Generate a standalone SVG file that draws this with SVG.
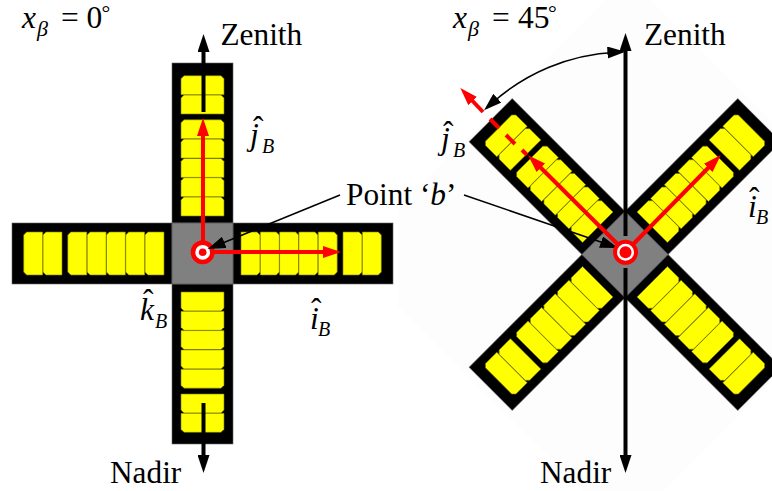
<svg xmlns="http://www.w3.org/2000/svg" width="772" height="491" viewBox="0 0 772 491">
<style>
text{font-family:"Liberation Serif","Times New Roman",serif;fill:#000}
.t{font-size:31.3px}
.i{font-size:31.5px;font-style:italic}
.n{font-size:31.5px}
.s{font-size:20px;font-style:italic}
.sg{font-size:22px;font-style:italic}
.d{font-size:22px}
.arm{fill:#000;stroke:#666;stroke-width:.6}
.cell{fill:#ff0;stroke:#7a7a00;stroke-width:.6}
.hub{fill:#808080;stroke:#555;stroke-width:.8}
.bk{fill:none;stroke:#000;stroke-width:4}
.rd{fill:none;stroke:#f00;stroke-width:4}
.ld{fill:none;stroke:#000;stroke-width:1.5}
</style>
<defs>
<marker id="ab" markerUnits="userSpaceOnUse" viewBox="0 0 18 12" markerWidth="18" markerHeight="12" refX="9" refY="6" orient="auto-start-reverse"><path d="M0 0L18 6L0 12Z" fill="#000"/></marker>
<marker id="ar" markerUnits="userSpaceOnUse" viewBox="0 0 18 12" markerWidth="18" markerHeight="12" refX="9" refY="6" orient="auto"><path d="M0 0L18 6L0 12Z" fill="#f00"/></marker>
<path id="cell" class="cell" d="M0-21.500H16L19-18.500V18.500L16 21.500H0Z"/>
<g id="cells">
<use href="#cell" x="0"/><use href="#cell" x="19.300"/><use href="#cell" x="38.600"/><use href="#cell" x="57.900"/><use href="#cell" x="77.200"/><use href="#cell" x="102"/><use href="#cell" x="121.300"/>
</g>
<rect id="armbar" class="arm" x="30.500" y="-30.500" width="160" height="61"/>
</defs>
<polygon id="backdrop" points="398,207 605,0 650,0 772,122 772,382 663,491 583,491 398,306" fill="#fdfdfd"/>
<g id="left-arm-top" transform="translate(202.500 253.500) rotate(-90)"><use href="#armbar"/><use href="#cells" x="37.500"/></g>
<g id="left-arm-right" transform="translate(202.500 253.500)"><use href="#armbar"/><use href="#cells" x="38.500"/></g>
<g id="left-arm-bottom" transform="translate(202.500 253.500) rotate(90)"><use href="#armbar"/><use href="#cells" x="38.500"/></g>
<g id="left-arm-left" transform="translate(202.500 253.500) rotate(180)"><use href="#armbar"/><use href="#cells" x="38.500"/></g>
<g id="left-hub"><rect class="hub" x="172" y="223" width="61" height="61"/></g>
<g id="right-arm-ne" transform="translate(625 254.500) rotate(-45)"><use href="#armbar" x="-.5"/><use href="#cells" x="38.500"/></g>
<g id="right-arm-nw" transform="translate(625 254.500) rotate(-135)"><use href="#armbar" x="-.5"/><use href="#cells" x="38.500"/></g>
<g id="right-arm-sw" transform="translate(625 254.500) rotate(135)"><use href="#armbar" x="-.5"/><use href="#cells" x="38.500"/></g>
<g id="right-arm-se" transform="translate(625 254.500) rotate(45)"><use href="#armbar" x="-.5"/><use href="#cells" x="38.500"/></g>
<g id="right-hub"><rect class="hub" x="-30.500" y="-30.500" width="61" height="61" transform="translate(625 254.500) rotate(45)"/></g>
<g id="connectors">
<path class="bk" d="M203.500 112V43" marker-end="url(#ab)"/>
<path class="bk" d="M203.500 403V464" marker-end="url(#ab)"/>
<path class="bk" d="M625.500 236V42" marker-end="url(#ab)"/>
<path class="bk" d="M625.500 268V464" marker-end="url(#ab)"/>
<path class="ld" d="M490.700 104.300A200 200 0 0 1 616.400 52.200" marker-start="url(#ab)" marker-end="url(#ab)"/>
<path class="ld" d="M464 195L609.500 245" marker-end="url(#ab)"/>
<path class="rd" d="M203 252V127" marker-end="url(#ar)"/>
<path class="rd" d="M203 252H332" marker-end="url(#ar)"/>
<path class="rd" d="M625.500 252L714.500 161.500" marker-end="url(#ar)"/>
<path class="rd" d="M625.500 252L534.500 161.500" marker-end="url(#ar)"/>
<path class="rd" d="M522 150L527 155M506 135L515 144M490 119L499 128"/>
<path class="rd" d="M483 112L466.500 94.500" marker-end="url(#ar)"/>
</g>
<g id="point-left"><circle cx="202.700" cy="252.300" r="9.700" fill="#fff" stroke="#f00" stroke-width="4.600"/><circle cx="202.700" cy="252.300" r="3.800" fill="#f00"/></g>
<g id="point-right"><circle cx="625.500" cy="252.300" r="10.500" fill="#fff" stroke="#f00" stroke-width="4"/><circle cx="625.500" cy="252.300" r="6" fill="#f00"/></g>
<g id="leader-left"><path class="ld" d="M340 195L216 245.700" marker-end="url(#ab)"/></g>
<g id="labels">
<text class="t" x="220.500" y="45">Zenith</text>
<text class="t" x="110" y="482.500">Nadir</text>
<text class="t" x="644" y="45">Zenith</text>
<text class="t" x="540" y="482.500">Nadir</text>
<text class="t" x="346" y="205">Point ‘<tspan font-style="italic">b</tspan>’</text>
<text><tspan class="i" x="22" y="28">x</tspan><tspan class="sg" x="37" y="36">β</tspan><tspan class="n" x="61" y="28">=</tspan><tspan class="n" x="86.500" y="28">0</tspan><tspan class="d" x="101.500" y="20">°</tspan></text>
<text><tspan class="i" x="453" y="28">x</tspan><tspan class="sg" x="468" y="36">β</tspan><tspan class="n" x="492" y="28">=</tspan><tspan class="n" x="518" y="28">45</tspan><tspan class="d" x="548" y="20">°</tspan></text>
<text><tspan class="i" x="250" y="145">j</tspan><tspan class="i" style="font-style:normal" x="253" y="138">ˆ</tspan><tspan class="s" x="262" y="153">B</tspan></text>
<text><tspan class="i" x="140" y="320">k</tspan><tspan class="i" style="font-style:normal" x="143" y="311">ˆ</tspan><tspan class="s" x="155" y="328">B</tspan></text>
<text><tspan class="i" x="310" y="329">i</tspan><tspan class="i" style="font-style:normal" x="311" y="320">ˆ</tspan><tspan class="s" x="318" y="336">B</tspan></text>
<text><tspan class="i" x="441" y="149">j</tspan><tspan class="i" style="font-style:normal" x="443" y="143">ˆ</tspan><tspan class="s" x="453" y="157">B</tspan></text>
<text><tspan class="i" x="748" y="217">i</tspan><tspan class="i" style="font-style:normal" x="749" y="209">ˆ</tspan><tspan class="s" x="756" y="224">B</tspan></text>
</g>
</svg>
